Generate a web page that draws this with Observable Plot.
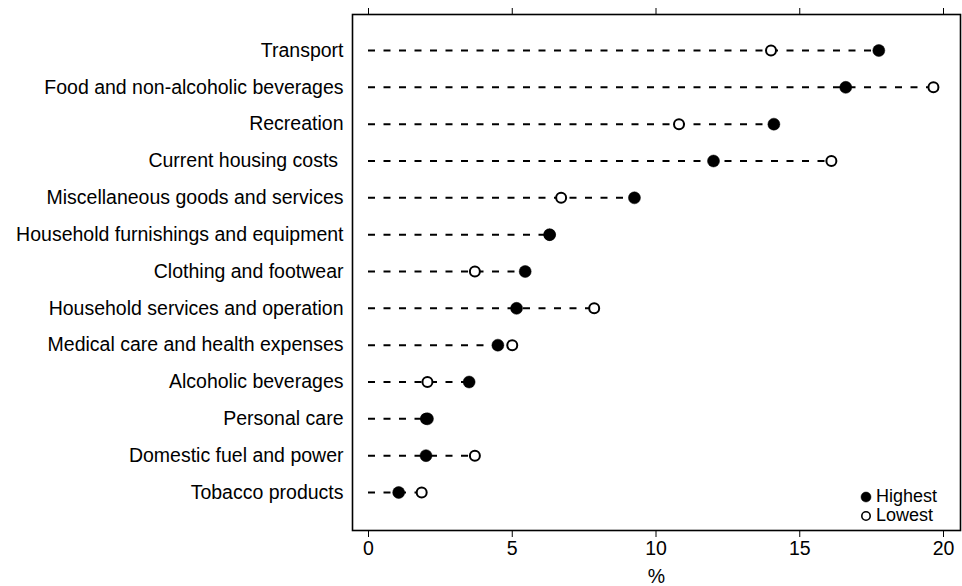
<!DOCTYPE html>
<html>
<head>
<meta charset="utf-8">
<script src="https://cdn.jsdelivr.net/npm/d3@7"></script>
<script src="https://cdn.jsdelivr.net/npm/@observablehq/plot@0.6"></script>
<style>
  html, body { margin: 0; padding: 0; background: #fff; }
  #wrap { position: relative; width: 962px; height: 586px; font-family: "Liberation Sans", Arial, sans-serif; }
  #legend { position: absolute; left: 860px; top: 487px; font-size: 18px; line-height: 19px; color: #000; }
  #legend div { display: flex; align-items: center; height: 19px; }
  #legend svg { margin-right: 4px; }
</style>
</head>
<body>
<div id="wrap"></div>
<script>
const categories = [
  "Transport",
  "Food and non-alcoholic beverages",
  "Recreation",
  "Current housing costs ",
  "Miscellaneous goods and services",
  "Household furnishings and equipment",
  "Clothing and footwear",
  "Household services and operation",
  "Medical care and health expenses",
  "Alcoholic beverages",
  "Personal care",
  "Domestic fuel and power",
  "Tobacco products"
];
const highest = [17.75, 16.6, 14.1, 12.0, 9.25, 6.3, 5.45, 5.15, 4.5, 3.5, 2.05, 2.0, 1.05];
const lowest  = [14.0, 19.65, 10.8, 16.1, 6.7, 6.3, 3.7, 7.85, 5.0, 2.05, 2.0, 3.7, 1.85];
const xTicks = [0, 5, 10, 15, 20];
const legendItems = ["Highest", "Lowest"];

const rows = categories.map((c, i) => ({cat: c, high: highest[i], low: lowest[i]}));

const chart = Plot.plot({
  width: 962,
  height: 586,
  marginLeft: 352,
  marginRight: 2,
  marginTop: 14,
  marginBottom: 56,
  style: {fontFamily: "Liberation Sans, Arial, sans-serif", fontSize: "19.5px", color: "#000", background: "#fff"},
  x: {domain: [0, 20], range: [368, 943]},
  y: {type: "point", domain: categories, range: [50, 492], padding: 0, round: false},
  marks: [
    Plot.frame({stroke: "#000", strokeWidth: 1.6}),
    Plot.ruleY(rows, {y: "cat", x1: 0, x2: d => Math.max(d.high, d.low), stroke: "#000", strokeWidth: 2, strokeDasharray: "7,8.5"}),
    Plot.dot(rows, {x: "low", y: "cat", r: 5, fill: "#fff", stroke: "#000", strokeWidth: 2}),
    Plot.dot(rows, {x: "high", y: "cat", r: 6, fill: "#000", stroke: "#000", strokeWidth: 0.5}),
    Plot.axisX(xTicks, {anchor: "bottom", tickSize: 7, tickPadding: 4, label: "%", labelAnchor: "center", labelArrow: "none", labelOffset: 52}),
    Plot.axisX(xTicks, {anchor: "top", tickSize: 7, tickFormat: () => "", label: null}),
    Plot.axisY({anchor: "left", tickSize: 0, tickPadding: 9, label: null})
  ]
});
const wrap = document.getElementById("wrap");
wrap.appendChild(chart);

const legend = document.createElement("div");
legend.id = "legend";
legendItems.forEach((name, i) => {
  const row = document.createElement("div");
  const filled = i === 0;
  row.innerHTML = `<svg width="12" height="12"><circle cx="6" cy="6" r="${filled ? 5 : 4.2}" fill="${filled ? "#000" : "#fff"}" stroke="#000" stroke-width="${filled ? 0.5 : 1.6}"/></svg><span>${name}</span>`;
  legend.appendChild(row);
});
wrap.appendChild(legend);
</script>
</body>
</html>
